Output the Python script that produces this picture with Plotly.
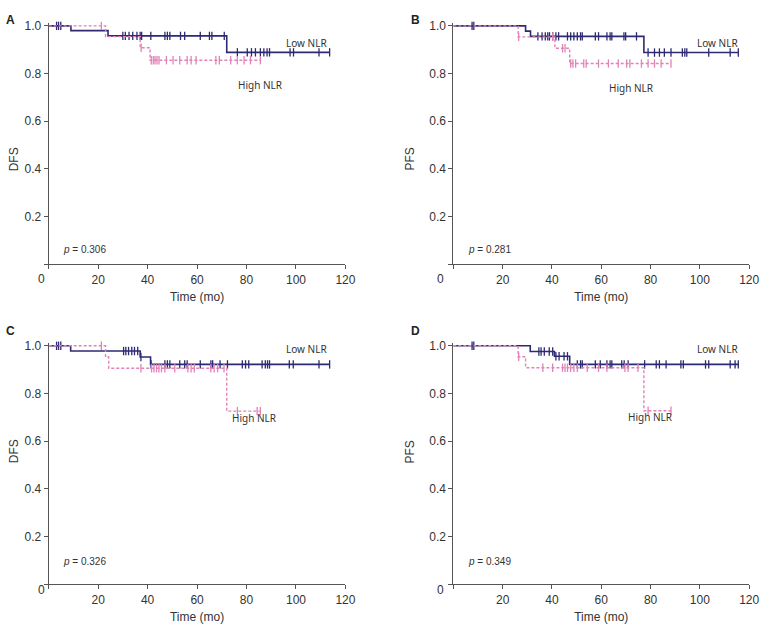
import plotly.graph_objects as go

W, H = 771, 629

NAVY = "#2e2a72"
PINK = "#e283b8"
AXIS = "#555555"
TEXT = "#333333"

X_TICKS = [0, 20, 40, 60, 80, 100, 120]
Y_TICKS = [0, 0.2, 0.4, 0.6, 0.8, 1.0]
Y_TICK_TEXT = ["", "0.2", "0.4", "0.6", "0.8", "1.0"]

# Panel A (DFS)
A_LOW_T = [0, 9, 24, 72]
A_LOW_S = [1.0, 0.98, 0.958, 0.889]
A_LOW_END = 113.6
A_LOW_CENS = [3.2, 4.0, 4.9, 30, 31, 32.5, 34, 35.7, 37, 37.6, 41.3, 47, 48, 49,
              53.3, 55, 61.3, 65, 66, 71, 76.3, 80.3, 82, 83.6, 85.6, 87, 88.3,
              89.3, 97.6, 99, 109.3, 113.6]
A_HIGH_T = [0, 23, 37, 41]
A_HIGH_S = [1.0, 0.955, 0.908, 0.856]
A_HIGH_END = 85.6
A_HIGH_CENS = [21.3, 37.4, 41.5, 42.3, 43, 43.8, 44.6, 47.6, 50.3, 53, 56, 57.6,
               59.6, 67.6, 69, 73.6, 76.3, 79, 81.6, 85.6]

# Panel B (PFS)
B_LOW_T = [0, 29.3, 31.3, 77.3]
B_LOW_S = [1.0, 0.978, 0.956, 0.888]
B_LOW_END = 115.6
B_LOW_CENS = [7.6, 8.3, 34.3, 36, 37.3, 38.3, 39, 40.3, 41.6, 42.7, 46.3, 47.6,
              48.9, 50.3, 51.6, 52.3, 57.6, 58.9, 62.3, 63.6, 64.3, 69.2, 69.9,
              74.3, 79, 81.6, 83.6, 85.6, 88.3, 92.9, 93.9, 94.7, 103.6, 112.3,
              115.6]
B_HIGH_T = [0, 26.3, 41.2, 47.2]
B_HIGH_S = [1.0, 0.954, 0.906, 0.842]
B_HIGH_END = 88.3
B_HIGH_CENS = [26.5, 40.3, 44.3, 45.3, 47.6, 48.5, 49.6, 52.9, 53.9, 58.9, 62.9,
               66.9, 70.3, 71.6, 76.3, 79, 81.6, 84.3, 88.3]

# Panel C (DFS)
C_LOW_T = [0, 8.9, 37, 41.2]
C_LOW_S = [1.0, 0.978, 0.953, 0.922]
C_LOW_END = 113.6
C_LOW_CENS = [3.2, 4.0, 4.9, 30.3, 31.2, 32.3, 33.6, 34.7, 36, 37.3, 41.4, 47,
              48, 49, 53, 55, 56, 61.3, 65.6, 66.3, 69.3, 72.3, 78.3, 79.6, 80.9,
              86.3, 87.6, 88.5, 89.3, 97.3, 98.9, 109.3, 113.6]
C_HIGH_T = [0, 23, 24.3, 72]
C_HIGH_S = [1.0, 0.953, 0.906, 0.726]
C_HIGH_END = 85.6
C_HIGH_CENS = [21.3, 37.3, 41.6, 42.6, 43.6, 44.6, 45.6, 47, 51, 56.3, 57.6, 58.9,
               65.6, 66.9, 68.3, 70.9, 76.3, 84.3, 85.6]

# Panel D (PFS)
D_LOW_T = [0, 31.2, 41, 47.2]
D_LOW_S = [1.0, 0.976, 0.956, 0.922]
D_LOW_END = 115.6
D_LOW_CENS = [7.6, 8.3, 34.7, 35.6, 36.9, 38.9, 40.3, 41.6, 42.9, 44.9, 46.3,
              50.3, 51.6, 52.3, 57.6, 59.6, 62.3, 63.6, 64.3, 68.3, 69.3, 70.9,
              77.6, 82.3, 83.6, 86.3, 92.3, 93.3, 102.3, 103.6, 112.3, 114.3,
              115.6]
D_HIGH_T = [0, 26.3, 29.3, 77.3]
D_HIGH_S = [1.0, 0.954, 0.908, 0.728]
D_HIGH_END = 88.3
D_HIGH_CENS = [26.5, 36.3, 40.3, 44.3, 45.3, 46.3, 47.6, 48.9, 50.3, 54.3, 58.9,
               62.3, 69.6, 70.9, 74.9, 79, 88.3]

P_VALUES = ["0.306", "0.281", "0.326", "0.349"]
Y_TITLES = ["DFS", "PFS", "DFS", "PFS"]
LETTERS = ["A", "B", "C", "D"]


def surv_at(t, steps, levels):
    s = levels[0]
    for st, lv in zip(steps, levels):
        if st <= t:
            s = lv
    return s


def px(x):
    return x / W


def py(y):
    return 1 - y / H


# pixel geometry of each panel: x of t=0, x of t=120, y of S=0
panels = [
    dict(x0=49.3, x1=350, y0=262, low=(A_LOW_T, A_LOW_S, A_LOW_END, A_LOW_CENS),
         high=(A_HIGH_T, A_HIGH_S, A_HIGH_END, A_HIGH_CENS),
         low_lab=(333, 30), high_lab=(239, 72)),
    dict(x0=459.3, x1=759, y0=262, low=(B_LOW_T, B_LOW_S, B_LOW_END, B_LOW_CENS),
         high=(B_HIGH_T, B_HIGH_S, B_HIGH_END, B_HIGH_CENS),
         low_lab=(750, 30), high_lab=(665, 75)),
    dict(x0=49.3, x1=350, y0=584, low=(C_LOW_T, C_LOW_S, C_LOW_END, C_LOW_CENS),
         high=(C_HIGH_T, C_HIGH_S, C_HIGH_END, C_HIGH_CENS),
         low_lab=(333, 347), high_lab=(258, 426)),
    dict(x0=459.3, x1=759, y0=584, low=(D_LOW_T, D_LOW_S, D_LOW_END, D_LOW_CENS),
         high=(D_HIGH_T, D_HIGH_S, D_HIGH_END, D_HIGH_CENS),
         low_lab=(750, 347), high_lab=(684, 425)),
]

PX_PER_UNIT_Y = 240  # pixels from S=0 to S=1
Y_TOP = 1.01

fig = go.Figure()
annotations = []

for i, p in enumerate(panels):
    n = "" if i == 0 else str(i + 1)
    xa, ya = "x" + n, "y" + n
    y_top_px = p["y0"] - PX_PER_UNIT_Y * Y_TOP

    fig.update_layout(**{
        "xaxis" + n: dict(
            domain=[px(p["x0"]), px(p["x1"])], range=[0, 120], anchor=ya,
            tickvals=X_TICKS, ticktext=[""] + [str(v) for v in X_TICKS[1:]],
            ticks="outside", ticklen=4, tickcolor=AXIS, showline=True,
            linecolor=AXIS, linewidth=1, showgrid=False, zeroline=False,
            tickfont=dict(family="Liberation Sans, Arial", size=12, color=TEXT),
            title=dict(text="Time (mo)", standoff=6,
                       font=dict(family="Liberation Sans, Arial", size=12, color=TEXT)),
        ),
        "yaxis" + n: dict(
            domain=[py(p["y0"]), py(y_top_px)], range=[0, Y_TOP], anchor=xa,
            tickvals=Y_TICKS, ticktext=Y_TICK_TEXT,
            ticks="outside", ticklen=4, tickcolor=AXIS, showline=True,
            linecolor=AXIS, linewidth=1, showgrid=False, zeroline=False,
            tickfont=dict(family="Liberation Sans, Arial", size=12, color=TEXT),
        ),
    })

    # pink (high NLR) drawn last so its dashes sit on top where curves overlap
    for key, color, dash, width in [("low", NAVY, "solid", 1.6),
                                    ("high", PINK, "3px,2px", 1.4)]:
        steps, levels, end, cens = p[key]
        fig.add_trace(go.Scatter(
            x=list(steps) + [end], y=list(levels) + [levels[-1]],
            mode="lines", line=dict(color=color, width=width, dash=dash, shape="hv"),
            xaxis=xa, yaxis=ya, showlegend=False, hoverinfo="skip",
        ))
        fig.add_trace(go.Scatter(
            x=cens, y=[surv_at(t, steps, levels) for t in cens],
            mode="markers",
            marker=dict(symbol="line-ns-open", size=6, color=color,
                        line=dict(color=color, width=1.3)),
            xaxis=xa, yaxis=ya, showlegend=False, cliponaxis=False,
        ))

    # origin "0" label, offset left of the axis
    annotations.append(dict(text="0", x=px(p["x0"] - 13), y=py(p["y0"] + 15),
                            xref="paper", yref="paper", showarrow=False,
                            font=dict(family="Liberation Sans, Arial", size=12, color=TEXT)))
    # y title
    annotations.append(dict(text=Y_TITLES[i], x=px(p["x0"] - 44), y=py(p["y0"] - 120),
                            xref="paper", yref="paper", showarrow=False, textangle=-90,
                            font=dict(family="Liberation Sans, Arial", size=12, color=TEXT)))
    # panel letter
    annotations.append(dict(text="<b>" + LETTERS[i] + "</b>", x=px(p["x0"] - 45),
                            y=py(p["y0"] - 255), xref="paper", yref="paper",
                            showarrow=False, xanchor="left",
                            font=dict(family="Liberation Sans, Arial", size=12, color="#222")))
    # p value
    annotations.append(dict(text="<i>p</i> = " + P_VALUES[i], x=px(p["x0"] + 13),
                            y=py(p["y0"] - 15), xref="paper", yref="paper",
                            showarrow=False, xanchor="left",
                            font=dict(family="Liberation Sans, Arial", size=10, color=TEXT)))
    # curve labels
    annotations.append(dict(text="Low NLR", x=px(p["low_lab"][0]), y=py(p["low_lab"][1]),
                            xref="paper", yref="paper", showarrow=False, xanchor="right",
                            font=dict(family="Noto Sans", size=10, color=TEXT)))
    annotations.append(dict(text="High NLR", x=px(p["high_lab"][0]), y=py(p["high_lab"][1]),
                            xref="paper", yref="paper", showarrow=False,
                            font=dict(family="Noto Sans", size=10, color=TEXT)))

fig.update_layout(
    width=W, height=H, margin=dict(l=0, r=0, t=0, b=0),
    plot_bgcolor="white", paper_bgcolor="white",
    showlegend=False, annotations=annotations,
)

# pin the figure to the page corner: no default body margin, no scrolling
reset_css = (
    "document.documentElement.style.cssText='margin:0;padding:0;overflow:hidden;';"
    "document.body.style.cssText='margin:0;padding:0;overflow:hidden;';"
)
fig.write_html(
    "out.html",
    config={"displayModeBar": False, "responsive": False},
    post_script=reset_css,
)
